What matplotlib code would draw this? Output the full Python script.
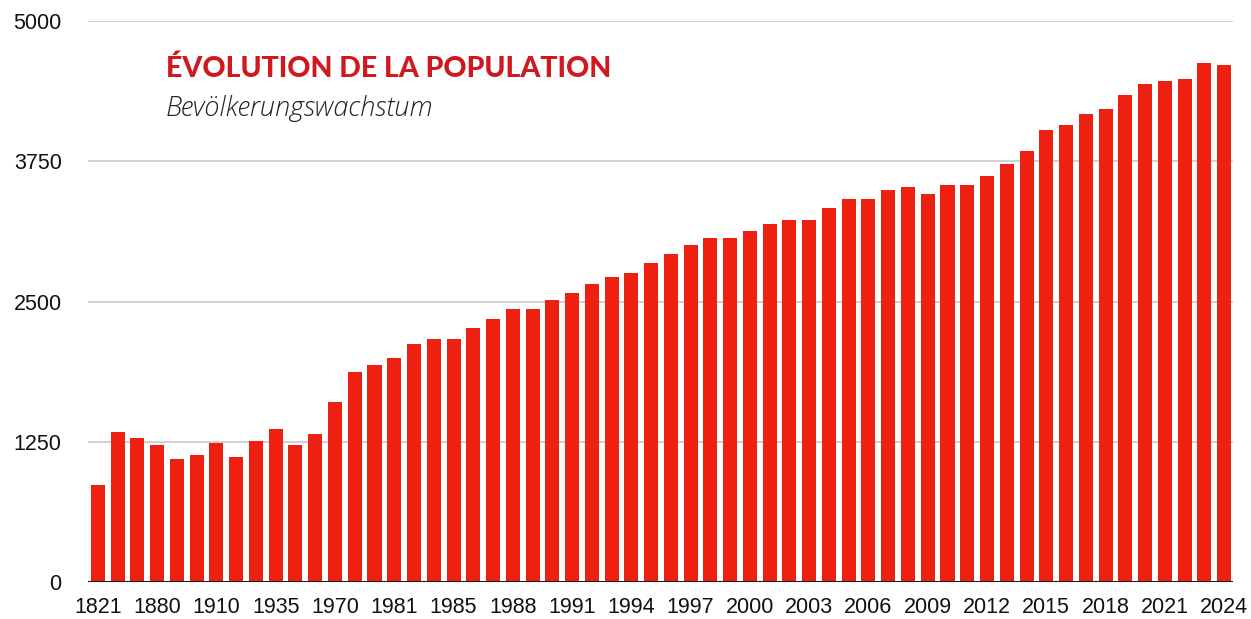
import matplotlib.pyplot as plt
import numpy as np

# bar categories (only every third label is shown in the chart)
years = ['1821', '1837', '1850', '1880', '1888', '1900', '1910', '1920', '1930',
         '1935', '1941', '1950', '1970', '1975', '1980', '1981', '1983', '1984',
         '1985', '1986', '1987', '1988', '1989', '1990', '1991', '1992', '1993',
         '1994', '1995', '1996', '1997', '1998', '1999', '2000', '2001', '2002',
         '2003', '2004', '2005', '2006', '2007', '2008', '2009', '2010', '2011',
         '2012', '2013', '2014', '2015', '2016', '2017', '2018', '2019', '2020',
         '2021', '2022', '2023', '2024']
population = [864, 1336, 1283, 1221, 1096, 1131, 1238, 1114, 1256,
              1363, 1221, 1319, 1604, 1871, 1933, 1996, 2120, 2165,
              2165, 2263, 2343, 2432, 2432, 2512, 2575, 2655, 2717,
              2753, 2842, 2922, 3002, 3065, 3065, 3127, 3190, 3225,
              3225, 3332, 3412, 3412, 3493, 3519, 3457, 3537, 3537,
              3617, 3724, 3840, 4027, 4072, 4170, 4214, 4339, 4437,
              4464, 4481, 4624, 4606]
y_ticks = [0, 1250, 2500, 3750, 5000]

title = 'ÉVOLUTION DE LA POPULATION'
subtitle = 'Bevölkerungswachstum'

W, H = 1251, 619
fig = plt.figure(figsize=(W / 100, H / 100), dpi=100)
ax = fig.add_axes([88 / W, 1 - 582 / H, (1233 - 88) / W, (582 - 21) / H])

x = np.arange(len(years))
ax.bar(x, population, width=0.71, color='#ee2011', zorder=2)

ax.set_ylim(0, 5000)
ax.set_xlim(-0.5, len(years) - 0.55)
ax.set_yticks(y_ticks)
ax.set_yticklabels([str(t) for t in y_ticks])
ax.set_xticks(x[::3])
ax.set_xticklabels(years[::3])

for t in y_ticks[1:]:
    ax.axhline(t, color='#c8c8c8', lw=1.2, zorder=1)
ax.axhline(0, color='#1a1a1a', lw=2.2, zorder=3)

for s in ax.spines.values():
    s.set_visible(False)
ax.tick_params(axis='both', length=0, labelsize=15.5, colors='#111111')
ax.tick_params(axis='y', pad=19)
ax.tick_params(axis='x', pad=11)
for lab in ax.get_xticklabels() + ax.get_yticklabels():
    lab.set_family('Liberation Sans')

fig.text(166 / W, 1 - 69 / H, title, color='#d0191e', fontsize=20.5,
         family='Lato', weight='black', va='center', ha='left')
fig.text(166 / W, 1 - 108 / H, subtitle, color='#222222', fontsize=19.5,
         family='Open Sans', style='italic', weight='light', va='center', ha='left')

fig.savefig('out.png', dpi=100)
